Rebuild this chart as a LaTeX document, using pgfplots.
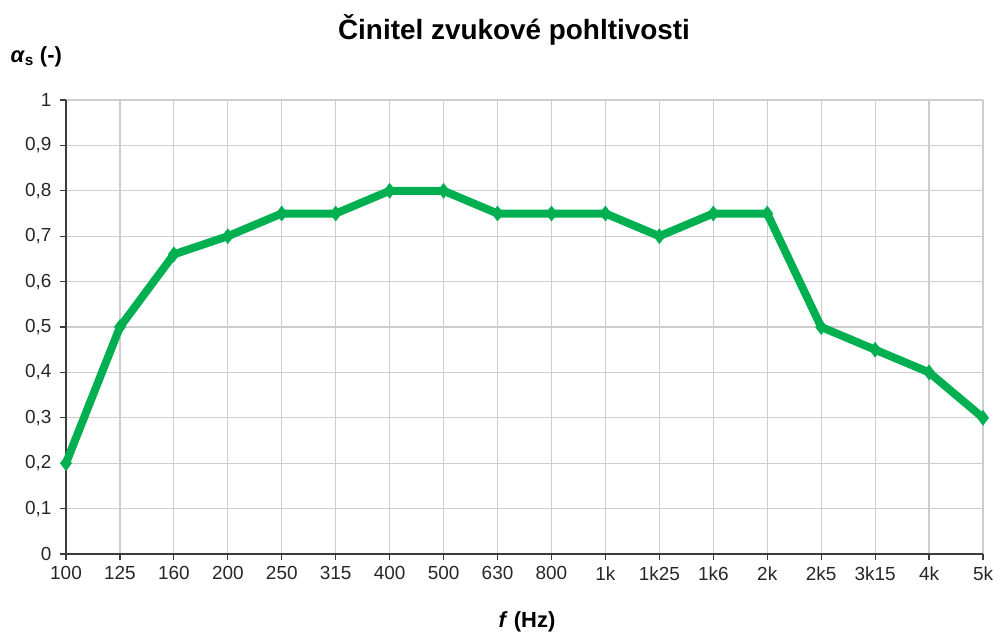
\documentclass[border=0pt]{standalone}
\usepackage{pgfplots}
\pgfplotsset{compat=1.18}
\usepackage{fontspec}
\setmainfont{Liberation Sans}
\definecolor{lgreen}{RGB}{0,176,80}
\definecolor{gridgray}{RGB}{205,205,205}
\definecolor{axgray}{RGB}{60,60,60}
\begin{document}
\begin{tikzpicture}
\path[use as bounding box] (0,0) rectangle (993bp,-635bp);
\begin{axis}[
  at={(66bp,-554bp)}, anchor=south west,
  scale only axis, width=917bp, height=454bp,
  xmin=0, xmax=17, ymin=0, ymax=1,
  axis x line*=bottom, axis y line*=left,
  axis line style={axgray, line width=1.8bp, -},
  xtick={0,...,17},
  xticklabels={100,125,160,200,250,315,400,500,630,800,1k,1k25,1k6,2k,2k5,3k15,4k,5k},
  ytick={0,0.1,...,1.01},
  grid=major,
  major grid style={gridgray, line width=1.2bp},
  tick align=outside, major tick length=6bp,
  tick style={axgray, line width=1.2bp},
  tick label style={font=\fontsize{19}{21}\selectfont, text=black!85},
  /pgf/number format/assume math mode=true,
  /pgf/number format/use comma,
  /pgf/number format/fixed, /pgf/number format/precision=1,
  xticklabel style={yshift=-3bp},
  yticklabel style={xshift=-5bp},
  clip=false,
]
\addplot[lgreen, line width=8bp, mark=diamond*, mark size=7.5bp, mark options={line width=0.5bp}] coordinates {
(0,0.2) (1,0.5) (2,0.66) (3,0.7) (4,0.75) (5,0.75) (6,0.8) (7,0.8) (8,0.75)
(9,0.75) (10,0.75) (11,0.7) (12,0.75) (13,0.75) (14,0.5) (15,0.45) (16,0.4) (17,0.3)};
\end{axis}
\node[font=\fontsize{28}{32}\selectfont\bfseries] at (514bp,-30bp) {Činitel zvukové pohltivosti};
\node[anchor=west, font=\fontsize{22}{26}\selectfont\bfseries] at (7bp,-57bp) {\textit{α}\textsubscript{s} (-)};
\node[font=\fontsize{22}{26}\selectfont\bfseries] at (527bp,-622bp) {\textit{f} (Hz)};
\end{tikzpicture}
\end{document}
